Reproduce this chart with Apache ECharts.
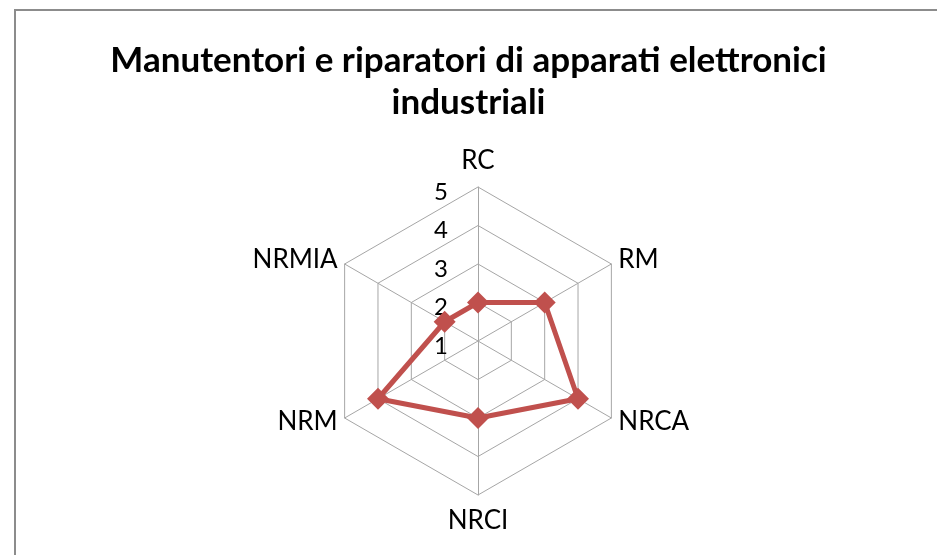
<!DOCTYPE html>
<html>
<head>
<meta charset="utf-8">
<script src="https://cdn.jsdelivr.net/npm/echarts@6/dist/echarts.min.js"></script>
<style>
  html, body { margin: 0; padding: 0; background: #fff; }
  #main { width: 937px; height: 555px; position: relative; }
  #frame { position: absolute; left: 14px; top: 9px; right: -2px; bottom: -2px;
           border-left: 2px solid #8c8c8c; border-top: 2px solid #8c8c8c; pointer-events: none; }
</style>
</head>
<body>
<div id="main"></div>
<div id="frame"></div>
<script>
// categorie (ordine Excel, in senso orario partendo dall'alto)
var categories = ['RC', 'RM', 'NRCA', 'NRCI', 'NRM', 'NRMIA'];
var values = [2, 3, 4, 3, 4, 2];
var scaleMin = 1;
var scaleMax = 5;
var titleText = 'Manutentori e riparatori di apparati elettronici\nindustriali';

var myChart = echarts.init(document.getElementById('main'));

// echarts gira in senso antiorario: riordino per avere lo stesso verso di Excel
var order = [0];
for (var i = categories.length - 1; i > 0; i--) {
    order.push(i);
}
var indicator = order.map(function (idx, k) {
    var ind = { name: categories[idx], min: scaleMin, max: scaleMax };
    if (k === 0) {
        ind.axisLabel = { show: true };
    }
    // etichette in alto e in basso un po' piu' staccate
    if (idx === 0 || idx === 3) {
        ind.nameGap = 13;
    }
    return ind;
});
var seriesData = order.map(function (idx) { return values[idx]; });

var option = {
    backgroundColor: '#fff',
    title: {
        text: titleText,
        left: 'center',
        top: 35,
        textStyle: {
            fontFamily: 'Lato',
            fontWeight: 'bold',
            fontSize: 35,
            lineHeight: 42,
            color: '#000'
        }
    },
    radar: {
        center: [478, 341],
        radius: 154,
        startAngle: 90,
        splitNumber: 4,
        shape: 'polygon',
        nameGap: 8,
        axisName: {
            color: '#000',
            fontFamily: 'Lato',
            fontSize: 26
        },
        axisLine: { lineStyle: { color: '#a6a6a6', width: 1 } },
        splitLine: { lineStyle: { color: '#a6a6a6', width: 1 } },
        splitArea: { show: false },
        axisTick: { show: false },
        axisLabel: {
            show: false,
            color: '#000',
            fontFamily: 'Lato',
            fontSize: 24,
            lineHeight: 10,
            verticalAlign: 'top',
            margin: 30
        },
        indicator: indicator
    },
    series: [{
        type: 'radar',
        symbol: 'diamond',
        symbolSize: 22,
        lineStyle: { color: '#c0504d', width: 5 },
        itemStyle: { color: '#c0504d' },
        data: [{ value: seriesData, name: 'valori' }]
    }]
};
myChart.setOption(option);
</script>
</body>
</html>
